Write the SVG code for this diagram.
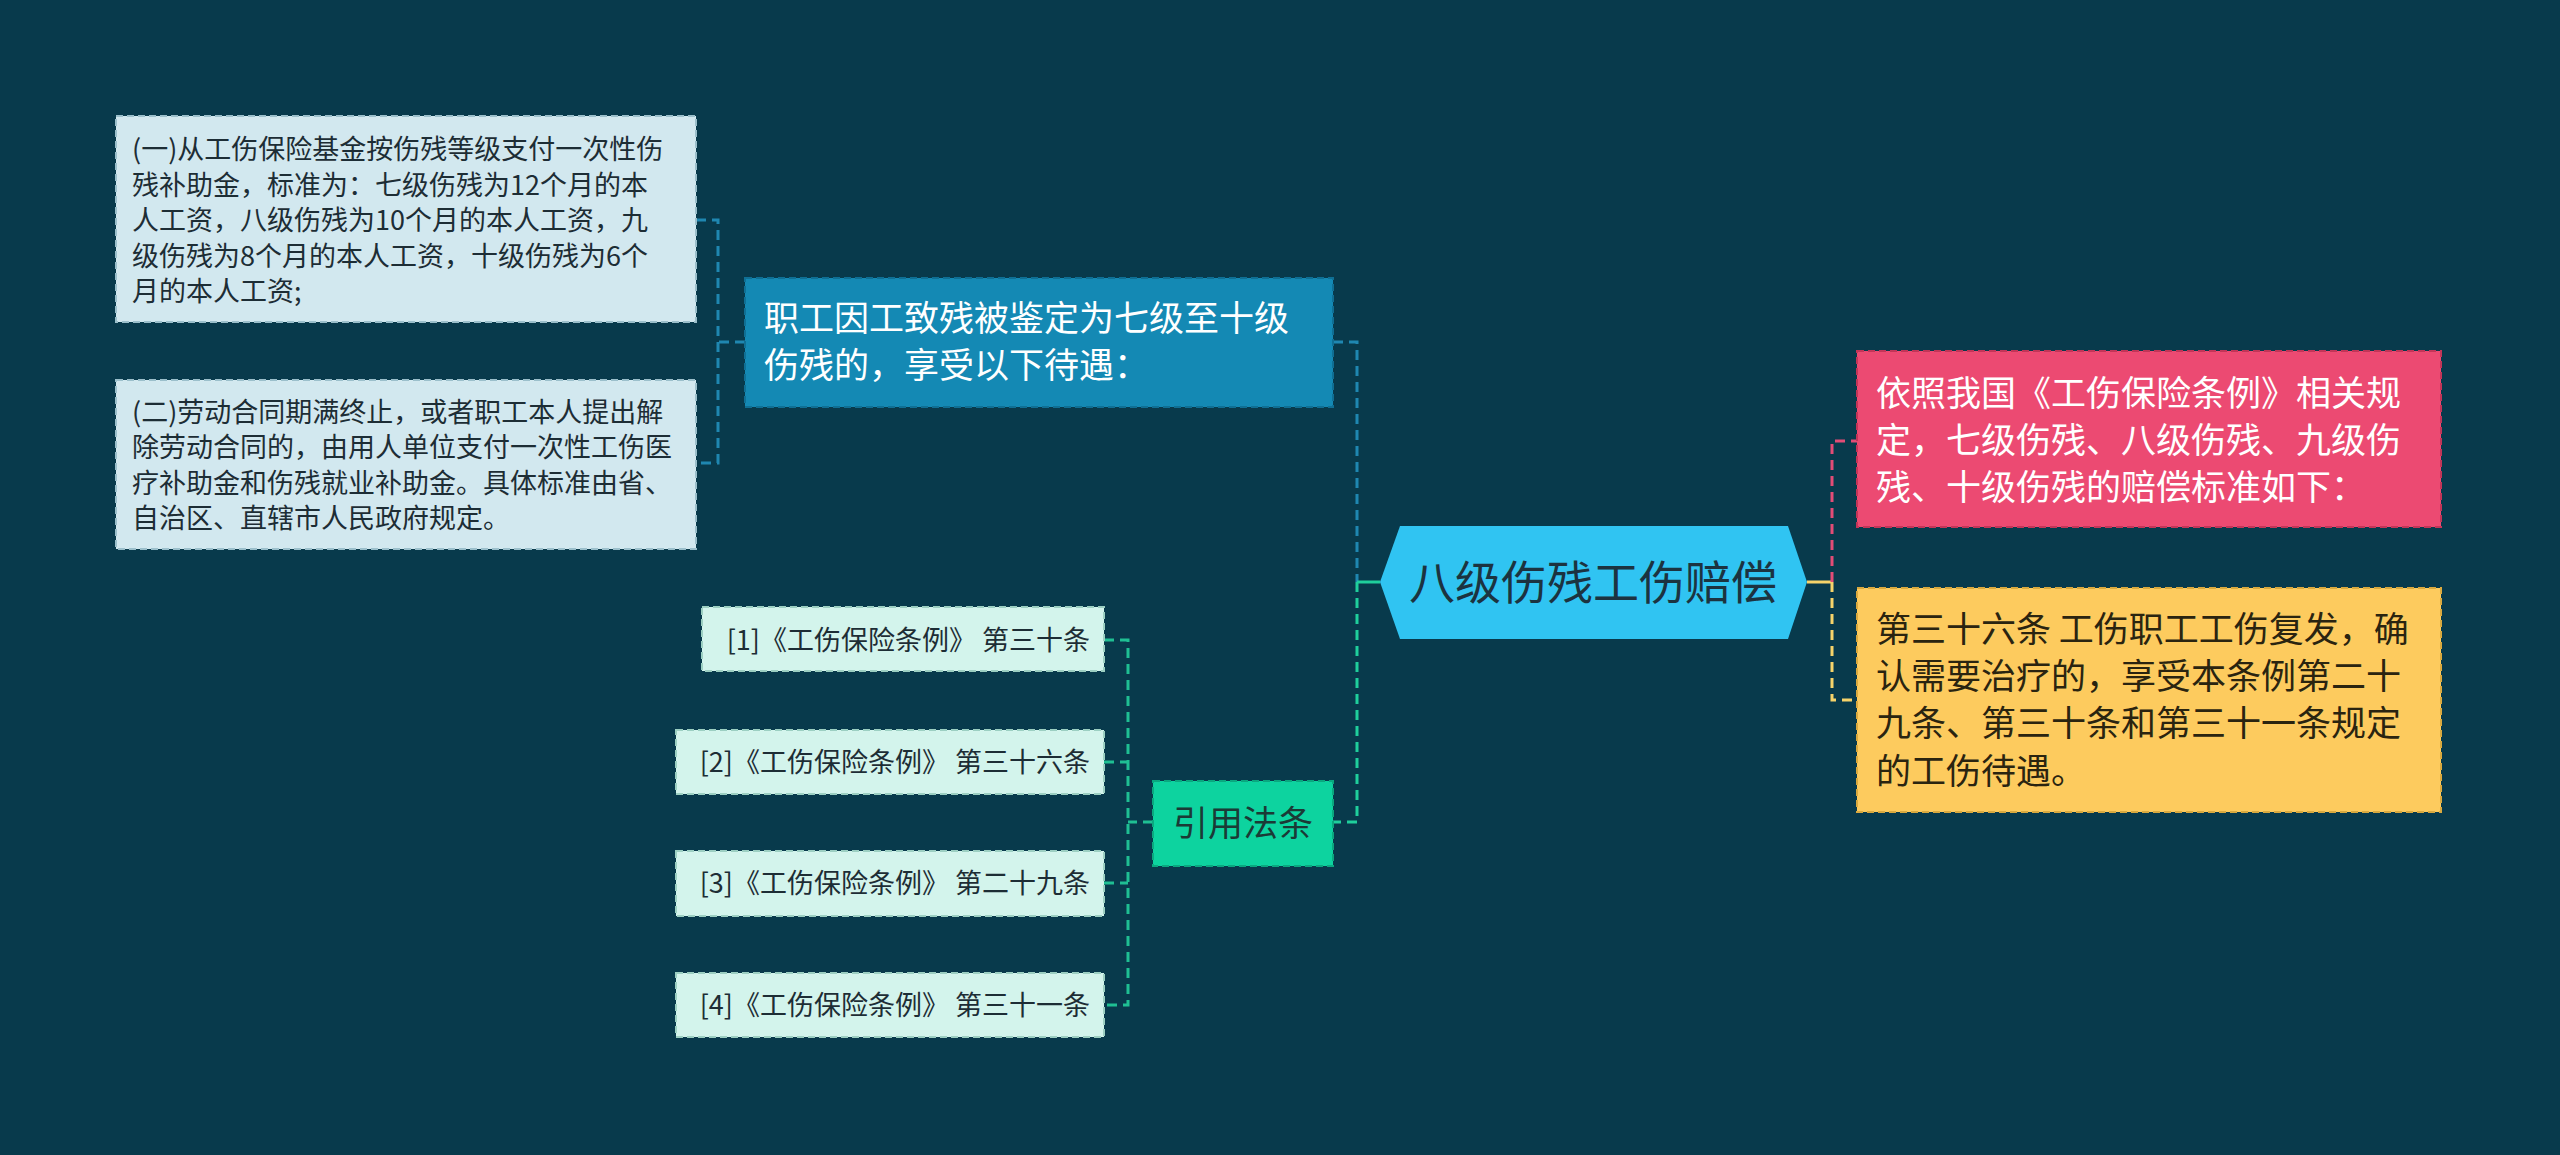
<svg xmlns="http://www.w3.org/2000/svg" width="2560" height="1155" viewBox="0 0 2560 1155">
<style>
text{font-family:"Noto Sans CJK SC","Noto Sans",sans-serif;}
.leaf{font-size:27px;fill:#1d2d35;}
.mid{font-size:35px;}
.con{fill:none;stroke-width:3;stroke-dasharray:10 6;}
.solid{fill:none;stroke-width:3;}
.box{stroke-width:2;stroke-dasharray:7 4;}
</style>
<rect x="0" y="0" width="2560" height="1155" fill="#083a4c"/>
<g id="connectors">
  <path class="con" stroke="#1f87b1" d="M696,220 H718 V463 H696 M745,342 H718"/>
  <path class="con" stroke="#1f87b1" d="M1333,342 H1357 V582"/>
  <path class="solid" stroke="#1fcf9c" d="M1380,582 H1357"/>
  <path class="con" stroke="#1fcf9c" d="M1357,582 V822 H1333"/>
  <path class="con" stroke="#1fbf93" d="M1104,640 H1128 V1005 H1104 M1104,762 H1128 M1104,883 H1128 M1153,822 H1128"/>
  <path class="solid" stroke="#f6d36a" d="M1807,582 H1832"/>
  <path class="con" stroke="#e24c76" d="M1832,582 V441 H1857"/>
  <path class="con" stroke="#f6d36a" d="M1832,582 V700 H1857"/>
</g>
<g id="root">
  <polygon points="1380,582 1400,526 1788,526 1807,582 1788,639 1400,639" fill="#30c4f2"/>
  <text x="1593" y="599" font-size="46" fill="#1c3340" text-anchor="middle">八级伤残工伤赔偿</text>
</g>
<g id="node-c">
  <rect class="box" x="745" y="278" width="588" height="129" fill="#1489b4" stroke="#0f6f94"/>
  <text class="mid" fill="#ffffff"><tspan x="764" y="331">职工因工致残被鉴定为七级至十级</tspan><tspan x="764" y="378">伤残的，享受以下待遇：</tspan></text>
</g>
<g id="node-a">
  <rect class="box" x="116" y="116" width="580" height="206" fill="#d2e8ef" stroke="#9bbfcb"/>
  <text class="leaf"><tspan x="132" y="159">(一)从工伤保险基金按伤残等级支付一次性伤</tspan><tspan x="132" y="195">残补助金，标准为：七级伤残为12个月的本</tspan><tspan x="132" y="230">人工资，八级伤残为10个月的本人工资，九</tspan><tspan x="132" y="266">级伤残为8个月的本人工资，十级伤残为6个</tspan><tspan x="132" y="301">月的本人工资;</tspan></text>
</g>
<g id="node-b">
  <rect class="box" x="116" y="380" width="580" height="169" fill="#d2e8ef" stroke="#9bbfcb"/>
  <text class="leaf"><tspan x="132" y="422">(二)劳动合同期满终止，或者职工本人提出解</tspan><tspan x="132" y="457">除劳动合同的，由用人单位支付一次性工伤医</tspan><tspan x="132" y="493">疗补助金和伤残就业补助金。具体标准由省、</tspan><tspan x="132" y="528">自治区、直辖市人民政府规定。</tspan></text>
</g>
<g id="node-law">
  <rect class="box" x="1153" y="781" width="180" height="85" fill="#0dd39f" stroke="#0aa87f"/>
  <text class="mid" x="1243" y="836" fill="#1b3a36" text-anchor="middle">引用法条</text>
</g>
<g id="cite-1">
  <rect class="box" x="702" y="607" width="402" height="64" fill="#d3f4ec" stroke="#9ccfc2"/>
  <text class="leaf" x="1090" y="650" text-anchor="end">[1]《工伤保险条例》 第三十条</text>
</g>
<g id="cite-2">
  <rect class="box" x="676" y="730" width="428" height="64" fill="#d3f4ec" stroke="#9ccfc2"/>
  <text class="leaf" x="1090" y="772" text-anchor="end">[2]《工伤保险条例》 第三十六条</text>
</g>
<g id="cite-3">
  <rect class="box" x="676" y="851" width="428" height="65" fill="#d3f4ec" stroke="#9ccfc2"/>
  <text class="leaf" x="1090" y="893" text-anchor="end">[3]《工伤保险条例》 第二十九条</text>
</g>
<g id="cite-4">
  <rect class="box" x="676" y="973" width="428" height="64" fill="#d3f4ec" stroke="#9ccfc2"/>
  <text class="leaf" x="1090" y="1015" text-anchor="end">[4]《工伤保险条例》 第三十一条</text>
</g>
<g id="node-pink">
  <rect class="box" x="1857" y="351" width="584" height="176" fill="#ec4a72" stroke="#c23558"/>
  <text class="mid" fill="#ffffff"><tspan x="1876" y="406">依照我国《工伤保险条例》相关规</tspan><tspan x="1876" y="453">定，七级伤残、八级伤残、九级伤</tspan><tspan x="1876" y="500">残、十级伤残的赔偿标准如下：</tspan></text>
</g>
<g id="node-yellow">
  <rect class="box" x="1857" y="588" width="584" height="224" fill="#fdcb5e" stroke="#d9a93f"/>
  <text class="mid" fill="#2a2410"><tspan x="1876" y="642">第三十六条 工伤职工工伤复发，确</tspan><tspan x="1876" y="689">认需要治疗的，享受本条例第二十</tspan><tspan x="1876" y="736">九条、第三十条和第三十一条规定</tspan><tspan x="1876" y="784">的工伤待遇。</tspan></text>
</g>
</svg>
